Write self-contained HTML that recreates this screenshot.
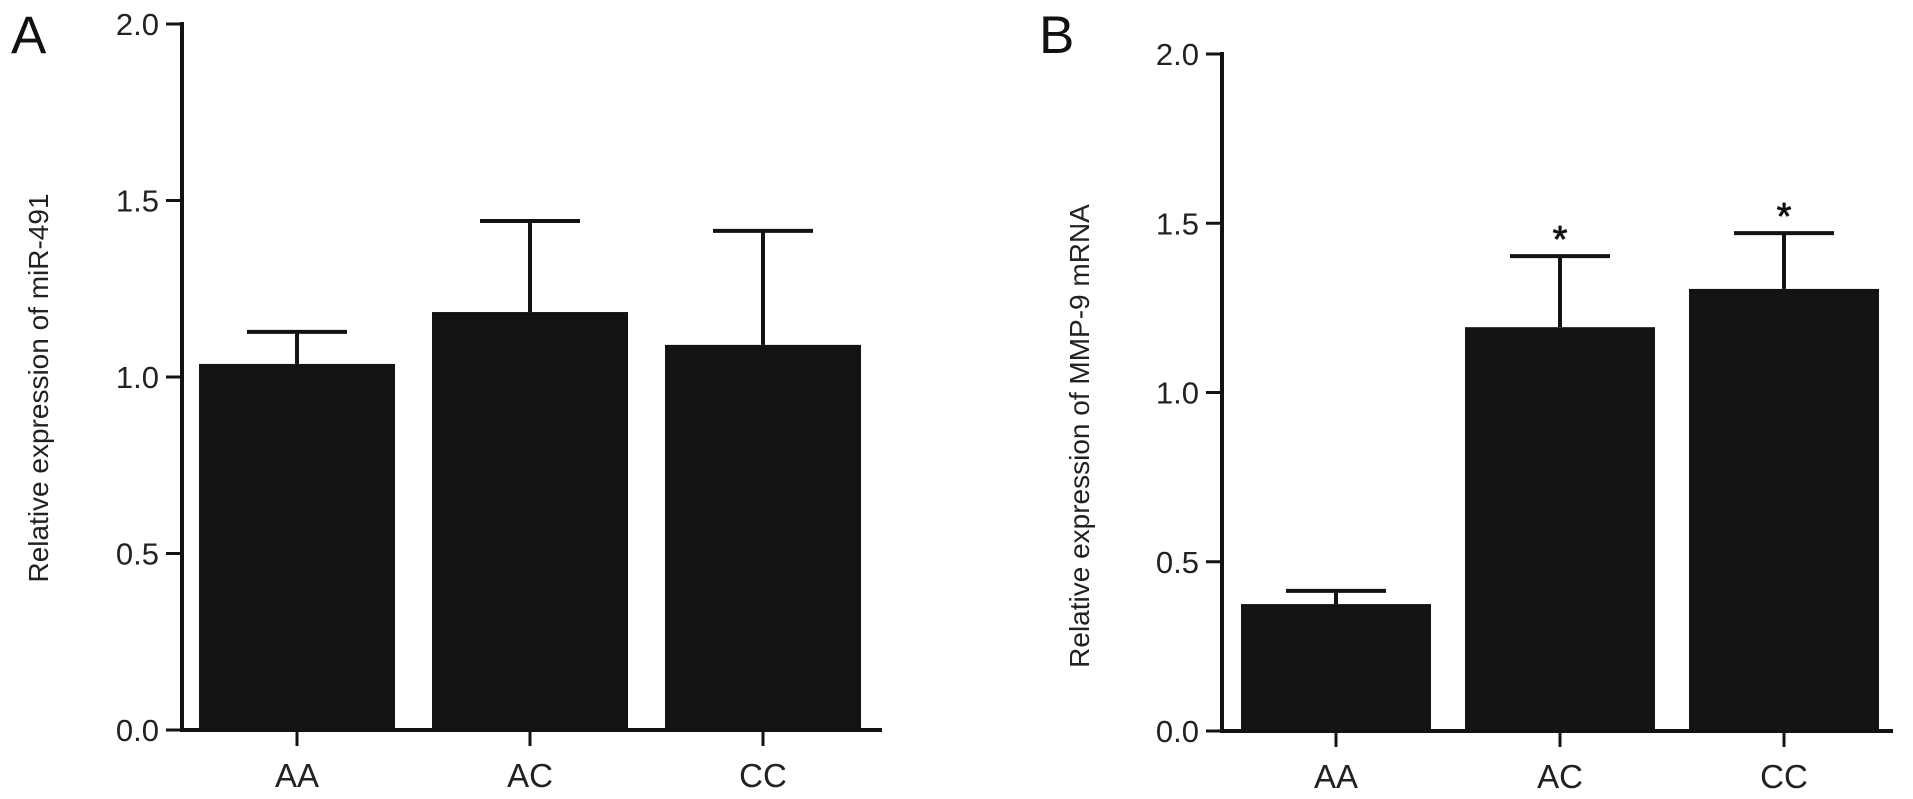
<!DOCTYPE html>
<html><head><meta charset="utf-8"><style>
html,body{margin:0;padding:0;background:#fff;}
svg{display:block;font-family:"Liberation Sans",Arial,sans-serif;}
</style></head><body>
<svg id="chart" width="1913" height="799" viewBox="0 0 1913 799">
<text x="11" y="53" font-size="53" fill="#111">A</text>
<text x="1039" y="53" font-size="53" fill="#111">B</text>
</svg>
<script>
const categories = ["AA","AC","CC"];
const meansA = [1.037, 1.184, 1.091];
const errA = [0.091, 0.258, 0.323];
const meansB = [0.375, 1.193, 1.306];
const errB = [0.039, 0.210, 0.165];
const sigB = ["", "*", "*"];
const yTicks = [0, 0.5, 1.0, 1.5, 2.0];
const yTickLabels = ["0.0","0.5","1.0","1.5","2.0"];

const NS = "http://www.w3.org/2000/svg";
const svg = document.getElementById("chart");
function mk(tag, attrs, parent){
  const e = document.createElementNS(NS, tag);
  for (const k in attrs) e.setAttribute(k, attrs[k]);
  (parent||svg).appendChild(e);
  return e;
}
function panel(p){
  const g = mk("g", {});
  
  
  const y = v => p.y0 - (v/2.0)*(p.y0 - p.y2);
  const xc = i => p.firstC + i*p.step;
  categories.forEach((c,i)=>{
    const m = p.means[i], e = p.errs[i];
    const r = mk("rect",{x:xc(i)-p.bw/2, y:y(m), width:p.bw, height:p.y0-y(m), fill:"#131313"}, g);
    
    
    const l = mk("line",{x1:xc(i), x2:xc(i), y1:y(m), y2:y(m+e), stroke:"#131313","stroke-width":4}, g);
    
    
    const cap = mk("line",{x1:xc(i)-50, x2:xc(i)+50, y1:y(m+e), y2:y(m+e), stroke:"#131313","stroke-width":4}, g);
    
    
    if (p.sig && p.sig[i]) {
      const s = mk("text",{x:xc(i), y:y(m+e)-4, "font-size":38, "text-anchor":"middle", fill:"#111", stroke:"#111", "stroke-width":0.8}, g);
      s.textContent = p.sig[i];
      
      
    }
    const t = mk("line",{x1:xc(i), x2:xc(i), y1:p.y0, y2:p.y0+16, stroke:"#131313","stroke-width":3}, g);
    
    
    const tl = mk("text",{x:xc(i), y:p.y0+57, "font-size":33, "text-anchor":"middle", fill:"#222"}, g);
    tl.textContent = c;
    
    
  });
  const ya = mk("line",{x1:p.ax, x2:p.ax, y1:p.y2-2, y2:p.y0+2, stroke:"#131313","stroke-width":4}, g);
  
  
  const xa = mk("line",{x1:p.ax-2, x2:p.xEnd, y1:p.y0, y2:p.y0, stroke:"#131313","stroke-width":4}, g);
  
  
  yTicks.forEach((v,i)=>{
    const t = mk("line",{x1:p.ax-16, x2:p.ax, y1:y(v), y2:y(v), stroke:"#131313","stroke-width":3}, g);
    
    
    const tl = mk("text",{x:p.ax-23, y:y(v)+11, "font-size":31, "text-anchor":"end", fill:"#222"}, g);
    tl.textContent = yTickLabels[i];
    
    
  });
  const tt = mk("text",{x:0, y:0, "font-size":28, "text-anchor":"middle", fill:"#222",
    transform:`translate(${p.titleX},${p.titleY}) rotate(-90)`}, g);
  tt.textContent = p.title;
  
  
}
panel({name:"panel-a-chart", ax:182, xEnd:882, y0:730, y2:24, firstC:297, step:233, bw:196,
  means:meansA, errs:errA, title:"Relative expression of miR-491", titleX:48, titleY:388});
panel({name:"panel-b-chart", ax:1222, xEnd:1893, y0:731, y2:54, firstC:1336, step:224, bw:190,
  means:meansB, errs:errB, sig:sigB, title:"Relative expression of MMP-9 mRNA", titleX:1089, titleY:436});
</script>
</body></html>
